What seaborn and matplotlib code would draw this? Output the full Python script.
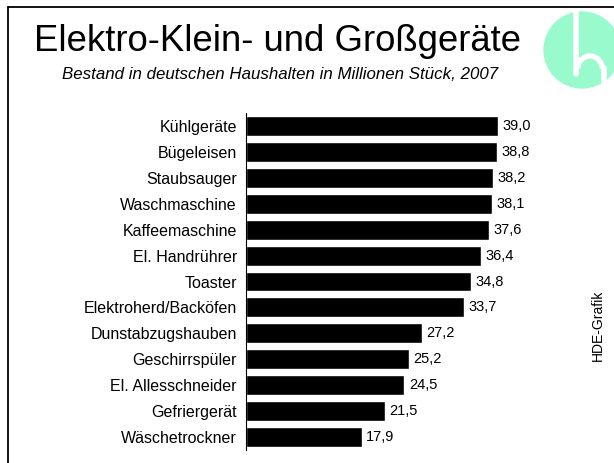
import pandas as pd
import matplotlib.pyplot as plt
import seaborn as sns
from matplotlib.patches import Circle, Wedge
from matplotlib.lines import Line2D

# ===== Data =====
geraete = ["Kühlgeräte", "Bügeleisen", "Staubsauger", "Waschmaschine",
           "Kaffeemaschine", "El. Handrührer", "Toaster", "Elektroherd/Backöfen",
           "Dunstabzugshauben", "Geschirrspüler", "El. Allesschneider",
           "Gefriergerät", "Wäschetrockner"]
bestand = [39.0, 38.8, 38.2, 38.1, 37.6, 36.4, 34.8, 33.7, 27.2, 25.2, 24.5, 21.5, 17.9]

df = pd.DataFrame({"geraet": geraete, "bestand": bestand})

sns.set_style("white")
plt.rcParams["font.family"] = ["Liberation Sans", "DejaVu Sans"]
plt.rcParams["text.color"] = "black"
plt.rcParams["ytick.labelcolor"] = "black"

fig = plt.figure(figsize=(6.14, 4.63), dpi=100)
ax = fig.add_axes([246 / 614, 1 - 450 / 463, 310 / 614, 337 / 463])

# ===== Bars =====
sns.barplot(x="bestand", y="geraet", data=df, orient="h", color="black",
            width=0.77, saturation=1, ax=ax)

for i, v in enumerate(bestand):
    ax.text(v + 0.7, i, f"{v:.1f}".replace(".", ","), va="center", ha="left",
            fontsize=10.5, color="black")

ax.set_xlim(0, 48)
ax.set_ylim(len(geraete) - 0.5, -0.5)
ax.set_xlabel("")
ax.set_ylabel("")
ax.set_xticks([])
for s in ["top", "right", "bottom"]:
    ax.spines[s].set_visible(False)
ax.spines["left"].set_color("black")
ax.spines["left"].set_linewidth(0.8)
ax.tick_params(axis="y", which="major", length=0, pad=6.5, labelsize=11.5,
               labelcolor="black")
ax.set_yticks([i - 0.5 for i in range(len(geraete) + 1)], minor=True)
ax.tick_params(axis="y", which="minor", length=4, width=0.8, color="black")

# ===== Titles =====
fig.text(34 / 614, 1 - 51 / 463, "Elektro-Klein- und Großgeräte", fontsize=26.3,
         ha="left", va="baseline", color="black")
fig.text(62 / 614, 1 - 79 / 463,
         "Bestand in deutschen Haushalten in Millionen Stück, 2007",
         fontsize=12.2, style="italic", ha="left", va="baseline", color="black")
fig.text(598 / 614, 1 - 325 / 463, "HDE-Grafik", fontsize=10, rotation=90,
         ha="center", va="center", color="black")

# ===== Frame lines =====
fig.add_artist(Line2D([8 / 614, 1], [1 - 7 / 463, 1 - 7 / 463],
                      transform=fig.transFigure, color="black", lw=1.3))
fig.add_artist(Line2D([8 / 614, 8 / 614], [1 - 7 / 463, 0],
                      transform=fig.transFigure, color="black", lw=1.3))

# ===== Logo =====
logo = fig.add_axes([540 / 614, 1 - 88 / 463, 84 / 614, 84 / 463])
logo.set_xlim(0, 84)
logo.set_ylim(84, 0)
logo.set_aspect("equal")
logo.axis("off")
logo.add_patch(Circle((42, 46), 38, color="#99fbcd", clip_on=False))
logo.plot([36, 36], [8, 70], color="white", lw=4, solid_capstyle="round")
logo.add_patch(Wedge((50, 64), 14, 180, 360, width=4, color="white"))
logo.plot([64, 64], [64, 84], color="white", lw=4)

fig.savefig("out.png", dpi=100)
